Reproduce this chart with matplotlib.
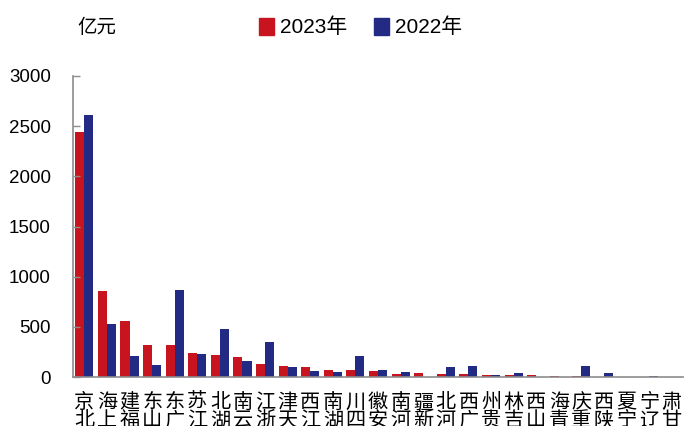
import numpy as np
import matplotlib.pyplot as plt
from matplotlib.patches import Patch

plt.rcParams['font.family'] = ['Liberation Sans', 'Noto Sans CJK SC', 'DejaVu Sans']

# 数据（亿元）
provinces = ['北京', '上海', '福建', '山东', '广东', '江苏', '湖北', '云南', '浙江',
             '天津', '江西', '湖南', '四川', '安徽', '河南', '新疆', '河北', '广西',
             '贵州', '吉林', '山西', '青海', '重庆', '陕西', '宁夏', '辽宁', '甘肃']
v2023 = [2440, 855, 559, 322, 322, 243, 224, 201, 125,
         105, 95, 72, 69, 60, 33, 36, 30, 26,
         23, 20, 16, 10, 8, 4, 1, 0, 0]
v2022 = [2610, 526, 210, 122, 865, 234, 483, 164, 349,
         95, 59, 46, 210, 69, 49, 0, 99, 112,
         23, 36, 5, 3, 105, 40, 1, 13, 1]
years = ['2023年', '2022年']
colors = ['#C8141E', '#232A84']

fig = plt.figure(figsize=(6.87, 4.26), dpi=100)
ax = fig.add_axes([0.1063, 0.115, 0.888, 0.7066])

x = np.arange(len(provinces))
w = 0.4
ax.bar(x - w / 2, v2023, w, color=colors[0])
ax.bar(x + w / 2, v2022, w, color=colors[1])

ax.set_xlim(-0.5, len(provinces) - 0.5)
ax.set_ylim(0, 3000)
ax.set_yticks(np.arange(0, 3001, 500))
ax.tick_params(axis='y', direction='in', length=5, width=1, color='#8C8C8C',
               labelsize=13.5, pad=16)

# 竖排标签：每个字直立，自下而上
stacked = [p[1] + '\n' + p[0] for p in provinces]
ax.set_xticks(x, labels=stacked)
ax.tick_params(axis='x', length=0, pad=11)
for t in ax.get_xticklabels():
    t.set_fontfamily(['Noto Sans CJK SC'])
    t.set_fontsize(14.5)
    t.set_linespacing(0.82)

for s in ['top', 'right']:
    ax.spines[s].set_visible(False)
for s in ['left', 'bottom']:
    ax.spines[s].set_color('#8C8C8C')
    ax.spines[s].set_linewidth(1.2)

fig.text(0.113, 0.935, '亿元', fontsize=14, va='center', family=['Noto Sans CJK SC'])
handles = [Patch(color=c) for c in colors]
fig.legend(handles, years, loc='center', bbox_to_anchor=(0.525, 0.935), ncol=2,
           frameon=False, fontsize=15, handlelength=0.7, handleheight=0.85,
           handletextpad=0.3, columnspacing=1.3)

fig.savefig('out.png', dpi=100)
